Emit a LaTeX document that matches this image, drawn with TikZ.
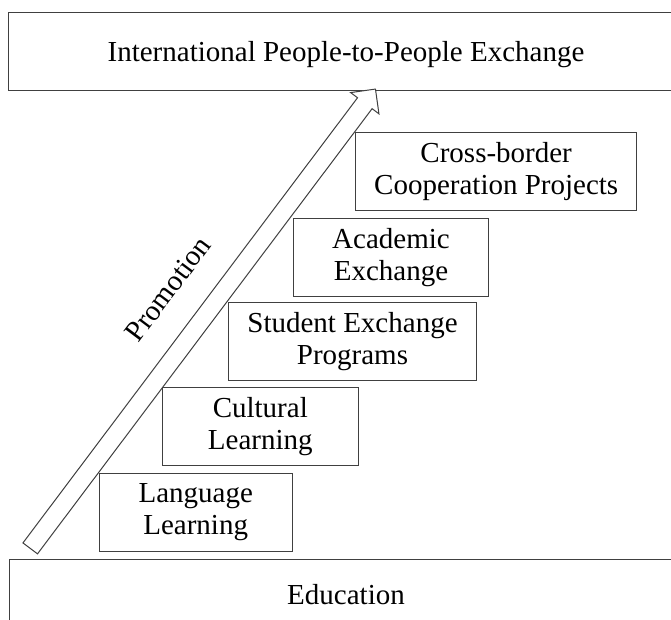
\documentclass[tikz,border=0pt]{standalone}
\usepackage{fontspec}
\setmainfont{Liberation Serif}
\usetikzlibrary{shapes.arrows}

\begin{document}
\begin{tikzpicture}[x=0.75pt, y=-0.75pt,
    box/.style={draw=black!75, line width=0.75pt, inner sep=0pt, align=center,
      font=\fontsize{21.75}{24}\selectfont,
      execute at begin node={\rule{0pt}{20.1pt}}},
    stepbox/.style={box, minimum height=78*\u}]
  %tikz  Education -> exchange
    \def\u{0.75pt}
    \useasboundingbox (0,0) rectangle (671,619);
    \clip (0,0) rectangle (671,619);

    \node[box, minimum width=676*\u, minimum height=77.6*\u] (inter) at (346,51.5)
      {International People-to-People Exchange};
    \node[box, minimum width=673.4*\u, minimum height=63.2*\u] (edu) at (346,590.9)
      {Education};

    \node[stepbox, minimum width=192.7*\u] (lang) at (195.7,512) {Language\\Learning};
    \node[stepbox, minimum width=196*\u] (cult) at (260.3,426.7) {Cultural\\Learning};
    \node[stepbox, minimum width=248.4*\u] (stud) at (352.5,341.3) {Student Exchange\\Programs};
    \node[stepbox, minimum width=195.4*\u] (acad) at (391,257.2) {Academic\\Exchange};
    \node[stepbox, minimum width=281*\u] (cross) at (496.2,171.3) {Cross-border\\Cooperation Projects};

    \node[single arrow, draw=black!75, line width=0.75pt, fill=white,
      inner xsep=0pt, inner ysep=8.6*\u, single arrow head extend=8.6*\u,
      minimum height=574.6*\u, rotate=53.07] (promo) at (200.1,322.35) {};
    \node[font=\fontsize{21.75}{24}\selectfont, rotate=53.07] (promotxt) at (168,289) {Promotion};

  \end{tikzpicture}
\end{document}
